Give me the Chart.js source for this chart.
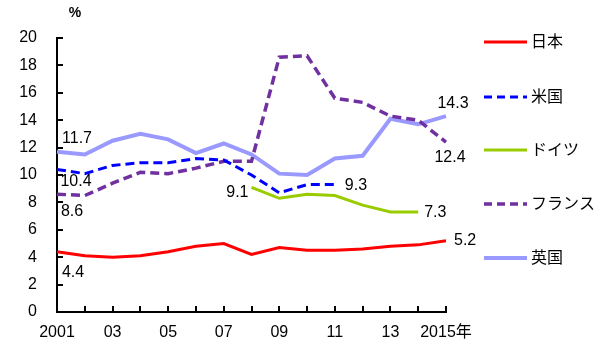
<!DOCTYPE html>
<html>
<head>
<meta charset="utf-8">
<script src="https://cdn.jsdelivr.net/npm/chart.js@4"></script>
<style>
  html, body { margin: 0; padding: 0; background: #fff; }
  #wrap { width: 600px; height: 351px; }
</style>
</head>
<body>
<div id="wrap"><canvas id="chart"></canvas></div>
<script>
// data
const years = ['2001', '2002', '2003', '2004', '2005', '2006', '2007', '2008',
  '2009', '2010', '2011', '2012', '2013', '2014', '2015'];
const xTickLabels = ['2001', '', '03', '', '05', '', '07', '', '09', '', '11', '', '13', '', '2015年'];
const yTicks = [0, 2, 4, 6, 8, 10, 12, 14, 16, 18, 20];

const japan   = [4.4, 4.1, 4.0, 4.1, 4.4, 4.8, 5.0, 4.2, 4.7, 4.5, 4.5, 4.6, 4.8, 4.9, 5.2];
const usa     = [10.4, 10.1, 10.7, 10.9, 10.9, 11.2, 11.1, 10.0, 8.7, 9.3, 9.3, null, null, null, null];
const germany = [null, null, null, null, null, null, null, 9.1, 8.3, 8.6, 8.5, 7.8, 7.3, 7.3, null];
const france  = [8.6, 8.5, 9.4, 10.2, 10.1, 10.5, 11.0, 11.0, 18.6, 18.7, 15.6, 15.3, 14.3, 14.0, 12.4];
const uk      = [11.7, 11.5, 12.5, 13.0, 12.6, 11.6, 12.3, 11.5, 10.1, 10.0, 11.2, 11.4, 14.1, 13.7, 14.3];

const seriesNames = ['日本', '米国', 'ドイツ', 'フランス', '英国'];

const FONT = '"Liberation Sans", Arial, "Noto Sans CJK JP", sans-serif';

// value labels: dataset, index, text offset from point
const valueLabels = [
  { ds: 4, i: 0,  dx: 20, dy: -13, align: 'center' },
  { ds: 1, i: 0,  dx: 19, dy: 12,  align: 'center' },
  { ds: 3, i: 0,  dx: 15, dy: 17,  align: 'center' },
  { ds: 0, i: 0,  dx: 16, dy: 21,  align: 'center' },
  { ds: 2, i: 7,  dx: -3, dy: 5,   align: 'right' },
  { ds: 1, i: 10, dx: 10, dy: 1,   align: 'left' },
  { ds: 2, i: 13, dx: 6,  dy: 1,   align: 'left' },
  { ds: 0, i: 14, dx: 8,  dy: 0,   align: 'left' },
  { ds: 4, i: 14, dx: 7,  dy: -12, align: 'center' },
  { ds: 3, i: 14, dx: 4,  dy: 15,  align: 'center' }
];

const styles = [
  { color: '#ff0000', width: 3,   dash: [] },
  { color: '#0000ff', width: 3,   dash: [9, 5] },
  { color: '#99cc00', width: 3,   dash: [] },
  { color: '#7030a0', width: 3.5, dash: [9, 5] },
  { color: '#9999ff', width: 4,   dash: [] }
];

const seriesData = [japan, usa, germany, france, uk];

const datasets = seriesData.map((d, k) => ({
  label: seriesNames[k],
  data: d,
  borderColor: styles[k].color,
  backgroundColor: styles[k].color,
  borderWidth: styles[k].width,
  borderDash: styles[k].dash,
  pointRadius: 0,
  tension: 0,
  spanGaps: false
}));

const extras = {
  id: 'extras',
  afterDatasetsDraw(chart) {
    const ctx = chart.ctx;
    const xs = chart.scales.x, ys = chart.scales.y;
    const area = chart.chartArea;
    ctx.save();
    // inward tick marks
    ctx.strokeStyle = '#000';
    ctx.lineWidth = 2;
    ctx.beginPath();
    yTicks.forEach(v => {
      const y = Math.round(ys.getPixelForValue(v));
      ctx.moveTo(area.left, y);
      ctx.lineTo(area.left + 6, y);
    });
    years.forEach((_, i) => {
      const x = Math.round(xs.getPixelForValue(i));
      ctx.moveTo(x, area.bottom);
      ctx.lineTo(x, area.bottom - 6);
    });
    ctx.stroke();

    // value labels
    ctx.fillStyle = '#000';
    ctx.font = '16px ' + FONT;
    ctx.textBaseline = 'middle';
    valueLabels.forEach(l => {
      const v = seriesData[l.ds][l.i];
      const x = xs.getPixelForValue(l.i) + l.dx;
      const y = ys.getPixelForValue(v) + l.dy;
      ctx.textAlign = l.align;
      ctx.fillText(v.toFixed(1), x, y);
    });

    // unit
    ctx.textAlign = 'center';
    ctx.font = 'bold 14px ' + FONT;
    ctx.fillText('%', 75, 13);

    // legend
    const rows = [42, 97, 150, 204, 258];
    ctx.font = '16px ' + FONT;
    ctx.textAlign = 'left';
    styles.forEach((s, k) => {
      ctx.strokeStyle = s.color;
      ctx.lineWidth = s.width;
      ctx.setLineDash(s.dash.length ? [8, 5] : []);
      ctx.beginPath();
      ctx.moveTo(484, rows[k]);
      ctx.lineTo(527, rows[k]);
      ctx.stroke();
      ctx.setLineDash([]);
      ctx.fillText(seriesNames[k], 531, rows[k] + 1);
    });
    ctx.restore();
  }
};

new Chart(document.getElementById('chart'), {
  type: 'line',
  data: { labels: years, datasets },
  options: {
    responsive: true,
    maintainAspectRatio: false,
    animation: false,
    layout: { padding: { top: 38, right: 154, left: 0, bottom: 0 } },
    plugins: { legend: { display: false }, tooltip: { enabled: false } },
    scales: {
      x: {
        type: 'category',
        offset: false,
        grid: { display: false, drawTicks: false },
        border: { color: '#000', width: 2 },
        ticks: {
          autoSkip: false,
          maxRotation: 0,
          padding: 11,
          color: '#000',
          font: { size: 16, family: FONT },
          callback: (v, i) => xTickLabels[i]
        },
        afterFit: s => { s.height = 39; }
      },
      y: {
        min: 0,
        max: 20,
        grid: { display: false, drawTicks: false },
        border: { color: '#000', width: 2 },
        ticks: {
          stepSize: 2,
          padding: 20,
          color: '#000',
          font: { size: 16, family: FONT }
        },
        afterFit: s => { s.width = 57; }
      }
    }
  },
  plugins: [extras]
});
</script>
</body>
</html>
